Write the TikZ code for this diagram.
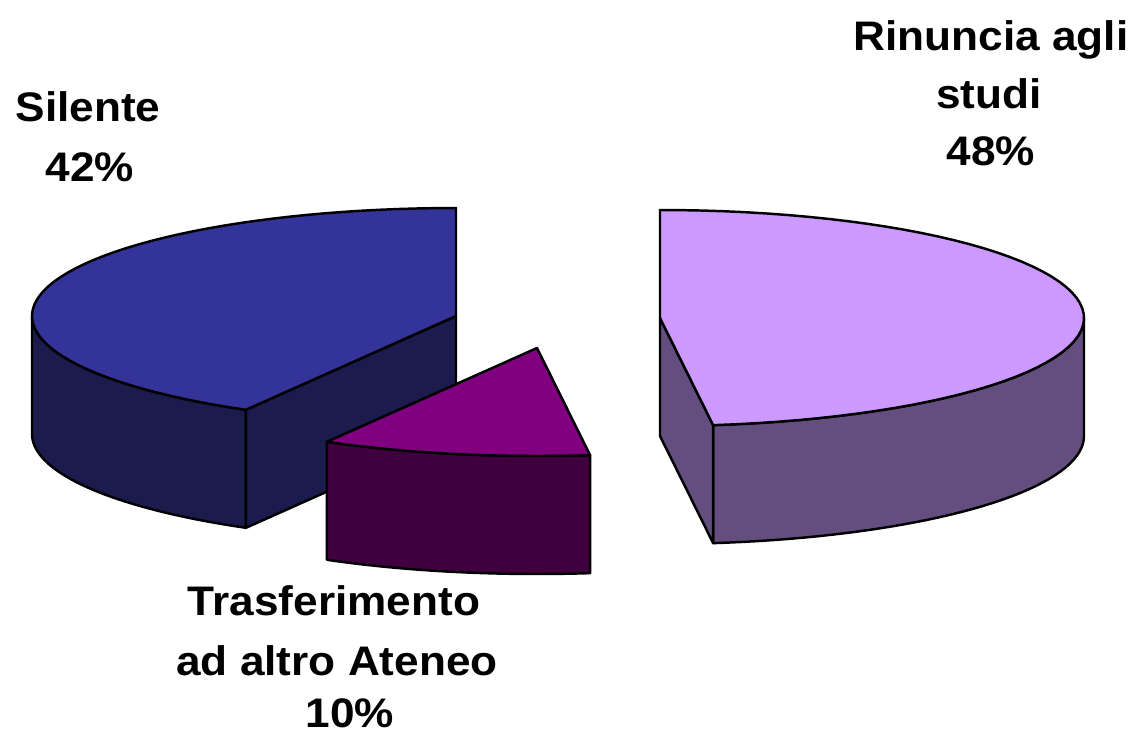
\documentclass[tikz,border=0pt]{standalone}
\usepackage{fontspec}
\setmainfont{Liberation Sans}
\usetikzlibrary{calc}
\definecolor{Ltop}{HTML}{333399}
\definecolor{Lside}{HTML}{1B1B4D}
\definecolor{Stop}{HTML}{800080}
\definecolor{Sside}{HTML}{400040}
\definecolor{Rtop}{HTML}{CC99FF}
\definecolor{Rside}{HTML}{644E80}
\begin{document}
\begin{tikzpicture}[x=0.02cm,y=-0.02cm,
  face/.style={draw=black, line width=1.4pt, line join=round},
  lbl/.style={font=\fontsize{23.5}{28}\selectfont\bfseries, xscale=1.07, anchor=base, inner sep=0pt}]
\useasboundingbox (0,0) rectangle (1135,744);
\def\rx{424}\def\ry{108}\def\dd{118}
% ---- Silente slice (left)
\coordinate (cL) at (456,316);
\filldraw[face, fill=Lside] plot[domain=180:240.3,samples=40] ({456+\rx*cos(\x)},{316-\ry*sin(\x)})
  -- plot[domain=240.3:180,samples=40] ({456+\rx*cos(\x)},{316+\dd-\ry*sin(\x)}) -- cycle;
\filldraw[face, fill=Lside] (cL) -- ({456+\rx*cos(240.3)},{316-\ry*sin(240.3)}) -- ++(0,\dd) -- ($(cL)+(0,\dd)$) -- cycle;
\filldraw[face, fill=Ltop] (cL) -- plot[domain=90:240.3,samples=60] ({456+\rx*cos(\x)},{316-\ry*sin(\x)}) -- cycle;
% ---- Rinuncia slice (right)
\coordinate (cR) at (660,318);
\filldraw[face, fill=Rside] plot[domain=-82.8:0,samples=40] ({660+\rx*cos(\x)},{318-\ry*sin(\x)})
  -- plot[domain=0:-82.8,samples=40] ({660+\rx*cos(\x)},{318+\dd-\ry*sin(\x)}) -- cycle;
\filldraw[face, fill=Rside] (cR) -- ({660+\rx*cos(-82.8)},{318-\ry*sin(-82.8)}) -- ++(0,\dd) -- ($(cR)+(0,\dd)$) -- cycle;
\filldraw[face, fill=Rtop] (cR) -- plot[domain=-82.8:90,samples=60] ({660+\rx*cos(\x)},{318-\ry*sin(\x)}) -- cycle;
% ---- Trasferimento slice (small)
\coordinate (cS) at (537,348);
\filldraw[face, fill=Sside] plot[domain=240.3:277.2,samples=30] ({537+\rx*cos(\x)},{348-\ry*sin(\x)})
  -- plot[domain=277.2:240.3,samples=30] ({537+\rx*cos(\x)},{348+\dd-\ry*sin(\x)}) -- cycle;
\filldraw[face, fill=Stop] (cS) -- plot[domain=240.3:277.2,samples=30] ({537+\rx*cos(\x)},{348-\ry*sin(\x)}) -- cycle;
% ---- labels
\node[lbl] (s1) at (88,121.7) {Silente};
\node[lbl] (s2) at (90,181) {42\%};
\node[lbl] (r1) at (991,50) {Rinuncia agli};
\node[lbl] (r2) at (989,108) {studi};
\node[lbl] (r3) at (991,165) {48\%};
\node[lbl] (t1) at (334,615) {Trasferimento};
\node[lbl] (t2) at (337,675) {ad altro Ateneo};
\node[lbl] (t3) at (350,727) {10\%};
\end{tikzpicture}
\end{document}
